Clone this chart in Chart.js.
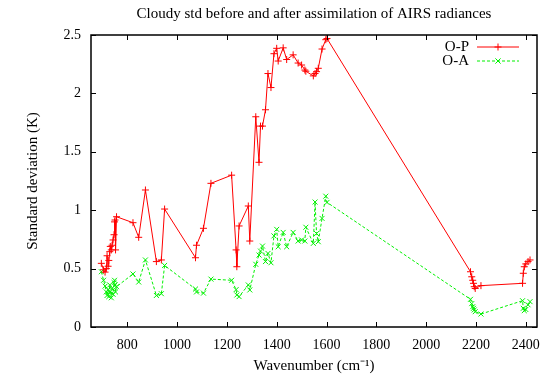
<!DOCTYPE html>
<html>
<head>
<meta charset="utf-8">
<script src="https://cdn.jsdelivr.net/npm/chart.js@4.4.0/dist/chart.umd.min.js"></script>
<style>
html, body { margin: 0; padding: 0; background: #fff; }
</style>
</head>
<body>
<canvas id="c" width="556" height="378"></canvas>
<script>
// AIRS channel wavenumbers (cm-1)
var wavenumbers = [696, 705, 711, 716, 719, 723, 726, 730, 732, 736,
  739, 743, 747, 749, 751, 753, 757, 823, 846, 873,
  917, 937, 950, 1074, 1078, 1106, 1136, 1219, 1237, 1240,
  1249, 1286, 1292, 1316, 1329, 1335, 1343, 1355, 1365, 1377,
  1389, 1400, 1406, 1426, 1440, 1466, 1486, 1500, 1513, 1517,
  1547, 1554, 1560, 1567, 1582, 1597, 1602,
  2178, 2183, 2187, 2190, 2193, 2197, 2220,
  2387, 2390, 2394, 2400, 2409, 2417];

// std of obs minus background
var omp = [0.545, 0.49, 0.47, 0.50, 0.61, 0.52, 0.57, 0.645, 0.69, 0.66,
  0.70, 0.745, 0.79, 0.90, 0.916, 0.66, 0.944, 0.893, 0.768, 1.173,
  0.56, 0.574, 1.01, 0.593, 0.70, 0.845, 1.23, 1.30, 0.66, 0.516,
  0.865, 1.036, 0.736, 1.80, 1.41, 1.72, 1.72, 1.86, 2.17, 2.05,
  2.34, 2.386, 2.277, 2.39, 2.29, 2.33, 2.26, 2.243, 2.20, 2.19,
  2.15, 2.17, 2.186, 2.215, 2.38, 2.46, 2.47,
  0.473, 0.43, 0.40, 0.374, 0.345, 0.33, 0.354,
  0.374, 0.46, 0.516, 0.54, 0.56, 0.574];

// std of obs minus analysis
var oma = [0.473, 0.40, 0.35, 0.30, 0.27, 0.32, 0.26, 0.36, 0.30, 0.25,
  0.33, 0.28, 0.38, 0.40, 0.36, 0.30, 0.345, 0.454, 0.385, 0.574,
  0.27, 0.285, 0.527, 0.325, 0.30, 0.29, 0.41, 0.40, 0.32, 0.274,
  0.26, 0.36, 0.317, 0.537, 0.616, 0.65, 0.693, 0.56, 0.63, 0.55,
  0.78, 0.836, 0.687, 0.81, 0.687, 0.81, 0.736, 0.745, 0.736, 0.854,
  0.716, 1.07, 0.80, 0.73, 0.93, 1.12, 1.067,
  0.237, 0.20, 0.174, 0.16, 0.146, 0.131, 0.111,
  0.225, 0.16, 0.14, 0.15, 0.19, 0.217];

var xTicks = [800, 1000, 1200, 1400, 1600, 1800, 2000, 2200, 2400];
var yTicks = [0, 0.5, 1, 1.5, 2, 2.5];
var chartTitle = 'Cloudy std before and after assimilation of AIRS radiances';

function pts(vals) {
  return wavenumbers.map(function (w, i) { return { x: w, y: vals[i] }; });
}

function drawMark(ctx, style, x, y, r) {
  ctx.beginPath();
  if (style === 'cross') {
    ctx.moveTo(x - r, y); ctx.lineTo(x + r, y);
    ctx.moveTo(x, y - r); ctx.lineTo(x, y + r);
  } else {
    ctx.moveTo(x - r * 0.75, y - r * 0.75); ctx.lineTo(x + r * 0.75, y + r * 0.75);
    ctx.moveTo(x - r * 0.75, y + r * 0.75); ctx.lineTo(x + r * 0.75, y - r * 0.75);
  }
  ctx.stroke();
}

// gnuplot style box with inward ticks, title and key
var framePlugin = {
  id: 'frame',
  afterDatasetsDraw: function (chart) {
    var ctx = chart.ctx, a = chart.chartArea;
    var xs = chart.scales.x, ys = chart.scales.y;
    ctx.save();
    ctx.strokeStyle = '#000';
    ctx.lineWidth = 1;
    ctx.beginPath();
    xTicks.forEach(function (v) {
      var px = Math.round(xs.getPixelForValue(v)) + 0.5;
      ctx.moveTo(px, a.bottom); ctx.lineTo(px, a.bottom - 5);
      ctx.moveTo(px, a.top); ctx.lineTo(px, a.top + 5);
    });
    yTicks.forEach(function (v) {
      var py = Math.round(ys.getPixelForValue(v)) + 0.5;
      ctx.moveTo(a.left, py); ctx.lineTo(a.left + 5, py);
      ctx.moveTo(a.right, py); ctx.lineTo(a.right - 5, py);
    });
    ctx.stroke();
    ctx.lineWidth = 1.5;
    ctx.strokeRect(a.left, a.top, a.right - a.left, a.bottom - a.top);

    ctx.fillStyle = '#000';
    ctx.font = '15px "Liberation Serif"';
    ctx.textAlign = 'center';
    ctx.textBaseline = 'middle';
    ctx.fillText(chartTitle, (a.left + a.right) / 2, 14);

    // key
    ctx.textAlign = 'right';
    chart.data.datasets.forEach(function (ds, i) {
      var y = a.top + 12 + i * 14;
      ctx.fillStyle = '#000';
      ctx.fillText(ds.label, a.right - 68, y);
      ctx.strokeStyle = ds.borderColor;
      ctx.lineWidth = 1;
      ctx.setLineDash(ds.borderDash || []);
      ctx.beginPath();
      ctx.moveTo(a.right - 60, y); ctx.lineTo(a.right - 18, y);
      ctx.stroke();
      ctx.setLineDash([]);
      drawMark(ctx, ds.pointStyle, a.right - 39, y, 3.5);
    });
    ctx.restore();
  }
};

Chart.defaults.font.family = '"Liberation Serif", serif';
Chart.defaults.font.size = 15;
Chart.defaults.color = '#000';

new Chart(document.getElementById('c').getContext('2d'), {
  type: 'line',
  data: {
    datasets: [{
      label: 'O-P',
      data: pts(omp),
      borderColor: 'rgb(255,0,0)',
      borderWidth: 1,
      pointStyle: 'cross',
      pointRadius: 3.5,
      pointBorderWidth: 1,
      pointBorderColor: 'rgb(255,0,0)',
      fill: false,
      tension: 0
    }, {
      label: 'O-A',
      data: pts(oma),
      borderColor: 'rgb(0,240,0)',
      borderWidth: 1,
      borderDash: [3, 2],
      pointStyle: 'crossRot',
      pointRadius: 3.5,
      pointBorderWidth: 1,
      pointBorderColor: 'rgb(0,240,0)',
      fill: false,
      tension: 0
    }]
  },
  options: {
    responsive: false,
    animation: false,
    events: [],
    layout: { padding: { left: 0, right: 19, top: 35, bottom: 0 } },
    plugins: {
      legend: { display: false },
      tooltip: { enabled: false },
      title: { display: false }
    },
    scales: {
      x: {
        type: 'linear',
        min: 654.5,
        max: 2445,
        afterFit: function (s) { s.height = 51; },
        afterBuildTicks: function (s) {
          s.ticks = xTicks.map(function (v) { return { value: v }; });
        },
        grid: { display: false, drawTicks: false },
        border: { display: false },
        ticks: { font: { size: 14 }, padding: 10, maxRotation: 0, autoSkip: false,
          callback: function (v) { return String(v); } },
        title: { display: true, text: 'Wavenumber (cm\u207B\u00B9)', padding: { top: 0, bottom: 3 } }
      },
      y: {
        min: 0,
        max: 2.5,
        afterFit: function (s) { s.width = 91; },
        afterBuildTicks: function (s) {
          s.ticks = yTicks.map(function (v) { return { value: v }; });
        },
        grid: { display: false, drawTicks: false },
        border: { display: false },
        ticks: { font: { size: 14 }, padding: 10, callback: function (v) { return String(v); } },
        title: { display: true, text: 'Standard deviation (K)', padding: { top: 24, bottom: 0 } }
      }
    }
  },
  plugins: [framePlugin]
});
</script>
</body>
</html>
